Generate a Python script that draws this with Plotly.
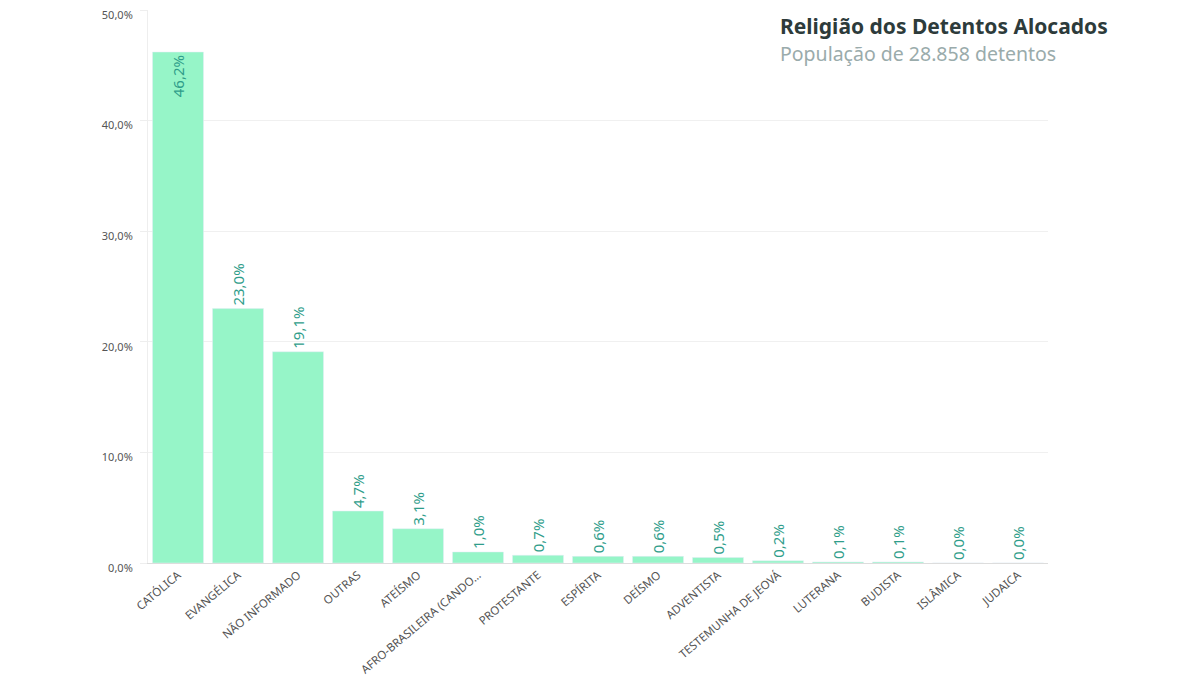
import plotly.graph_objects as go

# Religião dos detentos (percentual da população)
religioes = [
    "CATÓLICA", "EVANGÉLICA", "NÃO INFORMADO", "OUTRAS", "ATEÍSMO",
    "AFRO-BRASILEIRA (CANDO…", "PROTESTANTE", "ESPÍRITA", "DEÍSMO",
    "ADVENTISTA", "TESTEMUNHA DE JEOVÁ", "LUTERANA", "BUDISTA",
    "ISLÂMICA", "JUDAICA",
]
percentuais = [46.2, 23.0, 19.1, 4.7, 3.1, 1.0, 0.7, 0.6, 0.6, 0.5, 0.2, 0.1, 0.1, 0.0, 0.0]
y_ticks = [0, 10, 20, 30, 40, 50]


def pct(v):
    return f"{v:.1f}%".replace(".", ",")


rotulos = [pct(v) for v in percentuais]
posicoes = ["inside" if v > 40 else "outside" for v in percentuais]

fig = go.Figure()
fig.add_trace(
    go.Bar(
        x=religioes,
        y=percentuais,
        text=rotulos,
        textposition=posicoes,
        insidetextanchor="end",
        textangle=-90,
        textfont=dict(color="#2f9d8a", size=15),
        marker=dict(color="#96f5c8"),
        cliponaxis=False,
    )
)

# the page body has an 8px margin, so margins are shifted to compensate
fig.update_layout(
    width=1200,
    height=689,
    paper_bgcolor="white",
    plot_bgcolor="white",
    font=dict(family="Noto Sans", color="#555555"),
    margin=dict(l=140, r=160, t=2, b=134),
    bargap=0.15,
    showlegend=False,
    xaxis=dict(
        automargin=False,
        tickangle=-40,
        tickfont=dict(size=11.5, color="#555555"),
        showgrid=False,
        showline=True,
        linecolor="#dddddd",
    ),
    yaxis=dict(
        automargin=False,
        range=[0, 50],
        tickvals=y_ticks,
        ticktext=[pct(v) for v in y_ticks],
        tickfont=dict(size=11, color="#555555"),
        ticklabelshift=5,
        ticklabelstandoff=5,
        ticklabeloverflow="allow",
        gridcolor="#f0f0f0",
        zeroline=False,
        showline=True,
        linecolor="#eeeeee",
        ticks="outside",
        ticklen=7,
        tickcolor="#eeeeee",
    ),
    annotations=[
        dict(
            text="<b>Religião dos Detentos Alocados</b>",
            xref="paper", yref="paper", x=0.7, y=1.0,
            xanchor="left", yanchor="top", showarrow=False,
            font=dict(size=21, color="#2d3b3b"),
        ),
        dict(
            text="População de 28.858 detentos",
            xref="paper", yref="paper", x=0.7, y=0.95,
            xanchor="left", yanchor="top", showarrow=False,
            font=dict(size=19.5, color="#9aabab"),
        ),
    ],
)

fig.write_html("out.html")
